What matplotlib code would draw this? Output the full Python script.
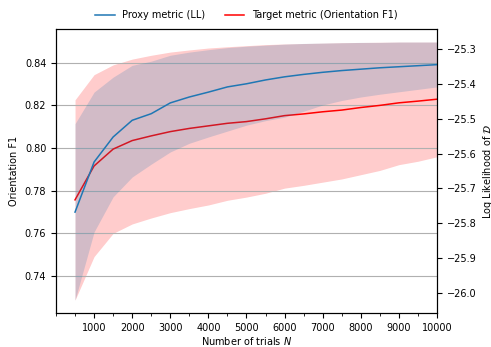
import numpy as np
import matplotlib
matplotlib.use('Agg')
import matplotlib.pyplot as plt
from matplotlib.ticker import MultipleLocator

plt.rcParams['font.size'] = 7

n_trials = [500, 1000, 1500, 2000, 2500, 3000, 3500, 4000, 4500, 5000,
            5500, 6000, 6500, 7000, 7500, 8000, 8500, 9000, 9500, 10000]

# target metric (orientation F1), left axis
f1_mean = [0.7757, 0.7916, 0.7995, 0.8035, 0.8057, 0.8077, 0.8092, 0.8104, 0.8116, 0.8124,
           0.8137, 0.8152, 0.8160, 0.8170, 0.8178, 0.8190, 0.8200, 0.8212, 0.8220, 0.8229]
f1_upper = [0.8226, 0.8344, 0.8390, 0.8417, 0.8435, 0.8450, 0.8460, 0.8469, 0.8475, 0.8480,
            0.8485, 0.8488, 0.8490, 0.8492, 0.8494, 0.8495, 0.8496, 0.8497, 0.8497, 0.8497]
f1_lower = [0.7287, 0.7491, 0.7600, 0.7644, 0.7672, 0.7697, 0.7716, 0.7733, 0.7755, 0.7770,
            0.7788, 0.7812, 0.7825, 0.7840, 0.7855, 0.7875, 0.7895, 0.7922, 0.7938, 0.7959]

# proxy metric (log likelihood), right axis
ll_mean = [-25.768, -25.624, -25.552, -25.504, -25.485, -25.454, -25.437, -25.423, -25.408, -25.399,
           -25.388, -25.379, -25.372, -25.366, -25.361, -25.357, -25.353, -25.350, -25.347, -25.344]
ll_upper = [-25.514, -25.423, -25.380, -25.346, -25.334, -25.317, -25.308, -25.301, -25.295, -25.291,
            -25.288, -25.285, -25.283, -25.282, -25.281, -25.280, -25.280, -25.279, -25.279, -25.279]
ll_lower = [-26.021, -25.825, -25.724, -25.667, -25.630, -25.595, -25.570, -25.552, -25.535, -25.518,
            -25.505, -25.495, -25.478, -25.460, -25.447, -25.437, -25.429, -25.422, -25.415, -25.408]

fig = plt.figure(figsize=(4.91, 3.47), dpi=100)
ax1 = fig.add_axes([0.114, 0.098, 0.776, 0.818])
ax2 = ax1.twinx()

ax1.fill_between(n_trials, f1_lower, f1_upper, color='red', alpha=0.2, lw=0)
l1, = ax1.plot(n_trials, f1_mean, color='red', lw=1.1, label='Target metric (Orientation F1)')
ax1.grid(axis='y')

ax2.fill_between(n_trials, ll_lower, ll_upper, color='tab:blue', alpha=0.2, lw=0)
l2, = ax2.plot(n_trials, ll_mean, color='tab:blue', lw=1.1, label='Proxy metric (LL)')

ax1.set_xlim(0, 10000)
ax1.xaxis.set_major_locator(MultipleLocator(1000))
ax1.xaxis.set_minor_locator(MultipleLocator(500))
ax1.set_xticks(range(1000, 10001, 1000))
ax1.set_xlabel('Number of trials $N$', labelpad=2)
ax1.set_ylabel('Orientation F1')
ax2.set_ylabel(r'Log Likelihood of $\mathcal{D}$', labelpad=3)

ax1.legend([l2, l1], [l2.get_label(), l1.get_label()], loc='lower center',
           bbox_to_anchor=(0.5, 1.0), ncol=2, frameon=False)

fig.savefig('out.png', dpi=100)
